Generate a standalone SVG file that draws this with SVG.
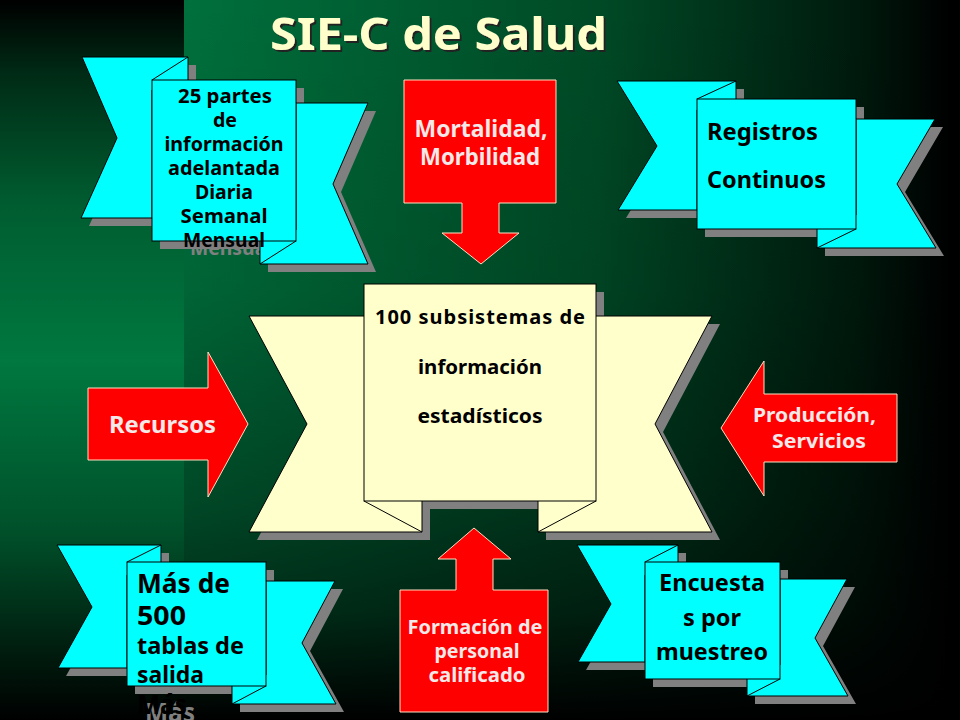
<svg xmlns="http://www.w3.org/2000/svg" width="960" height="720" viewBox="0 0 960 720">
<defs>
<linearGradient id="bgh" x1="184" y1="0" x2="950" y2="0" gradientUnits="userSpaceOnUse"><stop offset="0" stop-color="#00703c"/><stop offset="0.54" stop-color="#004a26"/><stop offset="0.88" stop-color="#001a0d"/><stop offset="1" stop-color="#000000"/></linearGradient>
<linearGradient id="bgv" x1="0" y1="0" x2="0" y2="1"><stop offset="0" stop-color="#000" stop-opacity="0"/><stop offset="0.4" stop-color="#000" stop-opacity="0.1"/><stop offset="0.7" stop-color="#000" stop-opacity="0.36"/><stop offset="0.85" stop-color="#000" stop-opacity="0.58"/><stop offset="1" stop-color="#000" stop-opacity="1"/></linearGradient>
<linearGradient id="bgl" x1="0" y1="0" x2="0" y2="1"><stop offset="0" stop-color="#000"/><stop offset="0.1" stop-color="#002a15"/><stop offset="0.28" stop-color="#005c30"/><stop offset="0.5" stop-color="#00783f"/><stop offset="0.74" stop-color="#00502a"/><stop offset="0.9" stop-color="#001e0f"/><stop offset="1" stop-color="#000"/></linearGradient>
<filter id="ts" x="-5%" y="-20%" width="110%" height="140%"><feDropShadow dx="2" dy="2" stdDeviation="0.6" flood-color="#222"/></filter>
<g id="r1"><polygon points="82,57 188,57 188,90 152,90 152,218 81,218 117,138"/><polygon points="296,103 368,103 333,184 368,264 260,264 260,230 296,230"/></g>
<g id="r2"><polygon points="617,81 736,81 736,110 697,110 697,210 618,210 657,146"/><polygon points="856,119 935,119 897,184 936,248 817,248 817,215 856,215"/></g>
<g id="r3"><polygon points="249,316 422,316 422,532 249,532 307,424"/><polygon points="538,316 712,316 655,424 712,532 538,532"/></g>
<g id="r4"><polygon points="57,545 161,545 161,575 127,575 127,668 58,668 92,607"/><polygon points="266,581 335,581 302,643 336,704 232,704 232,675 266,675"/></g>
<g id="r5"><polygon points="577,545 678,545 678,575 645,575 645,662 578,662 611,604"/><polygon points="780,579 847,579 815,638 848,696 747,696 747,665 780,665"/></g>
</defs>
<style>
text{font-family:"Noto Sans","DejaVu Sans",sans-serif;font-weight:bold;fill:#000;text-anchor:middle}
.c{fill:#00ffff;stroke:#000;stroke-width:1}
.y{fill:#ffffcc;stroke:#000;stroke-width:1}
.s{fill:#808080;stroke:none}
.f{stroke:#000;stroke-width:1;fill:none}
.r{fill:#ff0000;stroke:#ffe0c0;stroke-width:1}
text.w{fill:#f4e8e8}
text.g{fill:#808080}
text.l{text-anchor:start}
</style>
<rect width="960" height="720" fill="url(#bgh)"/>
<rect width="960" height="720" fill="url(#bgv)"/>
<rect width="184" height="720" fill="url(#bgl)"/>
<g id="title"><text x="438.500" y="50" font-size="45" textLength="337" lengthAdjust="spacingAndGlyphs" filter="url(#ts)" style="fill:#ffffcc">SIE-C de Salud</text></g>

<g id="nodes">
<g id="node-informacion-adelantada">
<use href="#r1" class="s" transform="translate(8 8)"/>
<rect class="s" x="160" y="88" width="144" height="161"/>
<text class="g" x="231" y="255" font-size="19" textLength="82" lengthAdjust="spacingAndGlyphs">Mensual</text>
<use href="#r1" class="c"/>
<rect class="c" x="152" y="80" width="144" height="161"/>
<path class="f" d="M188 57L152 80M296 241L260 264"/>
<g font-size="19">
<text x="225" y="103" textLength="94" lengthAdjust="spacingAndGlyphs">25 partes</text>
<text x="225" y="127" textLength="24" lengthAdjust="spacingAndGlyphs">de</text>
<text x="224" y="151" textLength="119" lengthAdjust="spacingAndGlyphs">información</text>
<text x="224" y="175" textLength="112" lengthAdjust="spacingAndGlyphs">adelantada</text>
<text x="224" y="199" textLength="58" lengthAdjust="spacingAndGlyphs">Diaria</text>
<text x="224" y="223" textLength="87" lengthAdjust="spacingAndGlyphs">Semanal</text>
<text x="224" y="247" textLength="82" lengthAdjust="spacingAndGlyphs">Mensual</text>
</g>
</g>

<g id="node-registros">
<use href="#r2" class="s" transform="translate(8 8)"/>
<rect class="s" x="705" y="107" width="159" height="130"/>
<use href="#r2" class="c"/>
<rect class="c" x="697" y="99" width="159" height="130"/>
<path class="f" d="M736 81L697 99M856 229L817 248"/>
<text class="l" x="707" y="140" font-size="23.500" textLength="111" lengthAdjust="spacingAndGlyphs">Registros</text>
<text class="l" x="707" y="188" font-size="23.500" textLength="119" lengthAdjust="spacingAndGlyphs">Continuos</text>
</g>

<g id="node-subsistemas">
<use href="#r3" class="s" transform="translate(8 8)"/>
<rect class="s" x="372" y="292" width="232" height="217"/>
<use href="#r3" class="y"/>
<rect class="y" x="364" y="284" width="232" height="217"/>
<path class="f" d="M364 501L422 532M596 501L538 532"/>
<g font-size="20">
<text x="480" y="324" textLength="210" lengthAdjust="spacing">100 subsistemas de</text>
<text x="480" y="374" textLength="124" lengthAdjust="spacingAndGlyphs">información</text>
<text x="480" y="423" textLength="125" lengthAdjust="spacingAndGlyphs">estadísticos</text>
</g>
</g>

<g id="node-tablas">
<use href="#r4" class="s" transform="translate(8 8)"/>
<rect class="s" x="135" y="570" width="139" height="124"/>
<text class="g l" x="145" y="722" font-size="26" textLength="50" lengthAdjust="spacingAndGlyphs">Más</text>
<use href="#r4" class="c"/>
<rect class="c" x="127" y="562" width="139" height="124"/>
<path class="f" d="M161 545L127 562M266 686L232 704"/>
<text class="l" x="137" y="593" font-size="26" textLength="93" lengthAdjust="spacingAndGlyphs">Más de</text>
<text class="l" x="137" y="625" font-size="26" textLength="49" lengthAdjust="spacingAndGlyphs">500</text>
<text class="l" x="137" y="654" font-size="23.500" textLength="107" lengthAdjust="spacingAndGlyphs">tablas de</text>
<text class="l" x="137" y="683" font-size="23.500" textLength="67" lengthAdjust="spacingAndGlyphs">salida</text>
<text class="l" x="137" y="714" font-size="26" textLength="50" lengthAdjust="spacingAndGlyphs">Más</text>
</g>

<g id="node-encuestas">
<use href="#r5" class="s" transform="translate(8 8)"/>
<rect class="s" x="653" y="570" width="135" height="117"/>
<use href="#r5" class="c"/>
<rect class="c" x="645" y="562" width="135" height="117"/>
<path class="f" d="M678 545L645 562M780 679L747 696"/>
<g font-size="23.500">
<text x="712" y="591" textLength="106" lengthAdjust="spacingAndGlyphs">Encuesta</text>
<text x="712" y="626" textLength="58" lengthAdjust="spacingAndGlyphs">s por</text>
<text x="712" y="660" textLength="112" lengthAdjust="spacingAndGlyphs">muestreo</text>
</g>
</g>

<g id="node-mortalidad">
<polygon class="r" points="404,80 556,80 556,203 499,203 499,233 519,233 481,264 442,233 462,233 462,203 404,203"/>
<text class="w" x="481" y="137" font-size="23.500" textLength="133" lengthAdjust="spacingAndGlyphs">Mortalidad,</text>
<text class="w" x="480" y="165" font-size="23.500" textLength="120" lengthAdjust="spacingAndGlyphs">Morbilidad</text>
</g>

<g id="node-formacion">
<polygon class="r" points="474,528 511,559 493,559 493,590 548,590 548,712 400,712 400,590 456,590 456,559 438,559"/>
<g font-size="19">
<text class="w" x="475" y="634" textLength="135" lengthAdjust="spacingAndGlyphs">Formación de</text>
<text class="w" x="477" y="658" textLength="85" lengthAdjust="spacingAndGlyphs">personal</text>
<text class="w" x="477" y="682" textLength="97" lengthAdjust="spacingAndGlyphs">calificado</text>
</g>
</g>

<g id="node-recursos">
<polygon class="r" points="88,388 208,388 208,352 248,424 208,497 208,460 88,460"/>
<text class="w" x="162.500" y="433" font-size="23.500" textLength="107" lengthAdjust="spacingAndGlyphs">Recursos</text>
</g>

<g id="node-produccion">
<polygon class="r" points="721,428 764,361 764,394 897,394 897,462 764,462 764,496"/>
<text class="w" x="814.500" y="422" font-size="19" textLength="123" lengthAdjust="spacingAndGlyphs">Producción,</text>
<text class="w" x="819" y="448" font-size="19" textLength="94" lengthAdjust="spacingAndGlyphs">Servicios</text>
</g>
</g>
</svg>
